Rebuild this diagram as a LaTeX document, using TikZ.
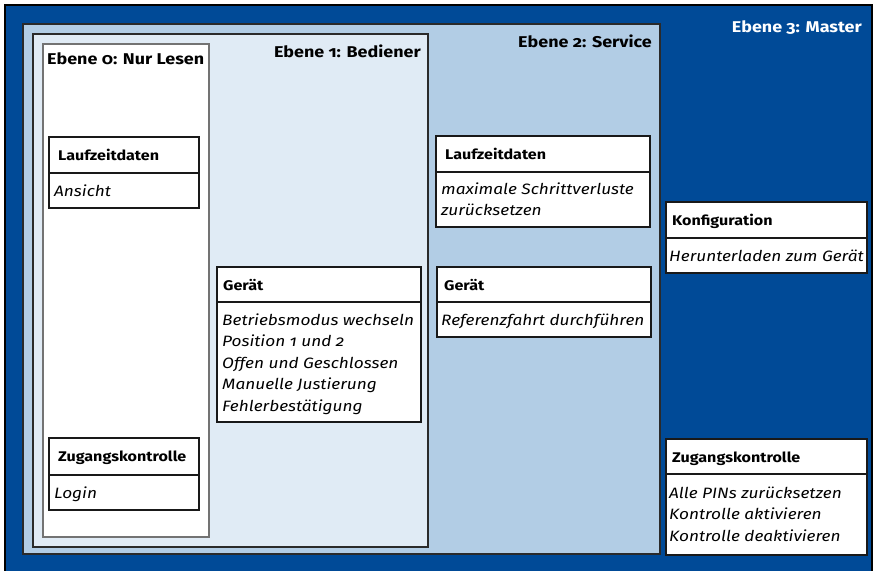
\documentclass[tikz,border=0pt]{standalone}
\usepackage{fontspec}
\setmainfont{Fira Sans}[Numbers=OldStyle, FakeStretch=1.15]
\definecolor{dblue}{HTML}{004A97}
\definecolor{mblue}{HTML}{B2CDE5}
\definecolor{lblue}{HTML}{E0EBF5}
\definecolor{frame}{HTML}{2A2A2A}
\begin{document}
\begin{tikzpicture}[x=1pt,y=-1pt,
  level/.style={draw=frame, line width=1.3pt},
  leveltitle/.style={inner sep=0pt, font=\fontsize{15.6}{19}\selectfont\bfseries},
  boxline/.style={draw=black!90, line width=1.8pt},
  hdr/.style={inner sep=0pt, anchor=base west, font=\fontsize{14}{17}\selectfont\bfseries},
  bodytxt/.style={inner sep=0pt, anchor=base west, align=left, font=\fontsize{15}{21.5}\selectfont\itshape}]
\useasboundingbox (0,0) rectangle (874,570);
\fill[white] (0,0) rectangle (874,570);
% levels
\draw[fill=dblue, line width=1.5pt, draw=black] (5,5) rectangle (872,590);
\draw[level, fill=mblue] (23,24) rectangle (660,554);
\draw[level, fill=lblue] (33,34) rectangle (428,547);
\draw[fill=white, draw=black!55, line width=1.2pt] (43,44) rectangle (209,537);
% level titles
\node[leveltitle, anchor=base west] (t0) at (47,64) {Ebene 0: Nur Lesen};
\node[leveltitle, anchor=base east] (t1) at (421,57) {Ebene 1: Bediener};
\node[leveltitle, anchor=base east] (t2) at (652,47) {Ebene 2: Service};
\node[leveltitle, anchor=base east, text=white] (t3) at (862,32) {Ebene 3: Master};
% Ebene 0 boxes
\draw[boxline, fill=white] (49,137) rectangle (199,208);
\draw[boxline] (49,173) -- (199,173);
\node[hdr] (l0h) at (58,160) {Laufzeitdaten};
\node[bodytxt] (l0b) at (54,196) {Ansicht};
\draw[boxline, fill=white] (49,438) rectangle (199,510);
\draw[boxline] (49,475) -- (199,475);
\node[hdr] (z0h) at (58,461) {Zugangskontrolle};
\node[bodytxt] (z0b) at (54,498) {Login};
% Ebene 1 box (base anchor = last line)
\draw[boxline, fill=white] (217,267) rectangle (421,422);
\draw[boxline] (217,302) -- (421,302);
\node[hdr] (g1h) at (223,290) {Gerät};
\node[bodytxt] (g1b) at (222,411) {Betriebsmodus wechseln\\Position 1 und 2\\Offen und Geschlossen\\Manuelle Justierung\\Fehlerbestätigung};
% Ebene 2 boxes
\draw[boxline, fill=white] (436,136) rectangle (650,227);
\draw[boxline] (436,172) -- (650,172);
\node[hdr] (l2h) at (445,159) {Laufzeitdaten};
\node[bodytxt] (l2b) at (441,215.5) {maximale Schrittverluste\\zurücksetzen};
\draw[boxline, fill=white] (437,267) rectangle (651,337);
\draw[boxline] (437,302) -- (651,302);
\node[hdr] (g2h) at (444,290) {Gerät};
\node[bodytxt] (g2b) at (441,325) {Referenzfahrt durchführen};
% Ebene 3 boxes
\draw[boxline, fill=white] (666,202) rectangle (867,273);
\draw[boxline] (666,238) -- (867,238);
\node[hdr] (k3h) at (672,225) {Konfiguration};
\node[bodytxt] (k3b) at (669,261) {Herunterladen zum Gerät};
\draw[boxline, fill=white] (666,439) rectangle (867,555);
\draw[boxline] (666,474) -- (867,474);
\node[hdr] (z3h) at (672,462) {Zugangskontrolle};
\node[bodytxt] (z3b) at (669,541) {Alle PINs zurücksetzen\\Kontrolle aktivieren\\Kontrolle deaktivieren};
\end{tikzpicture}
\end{document}
